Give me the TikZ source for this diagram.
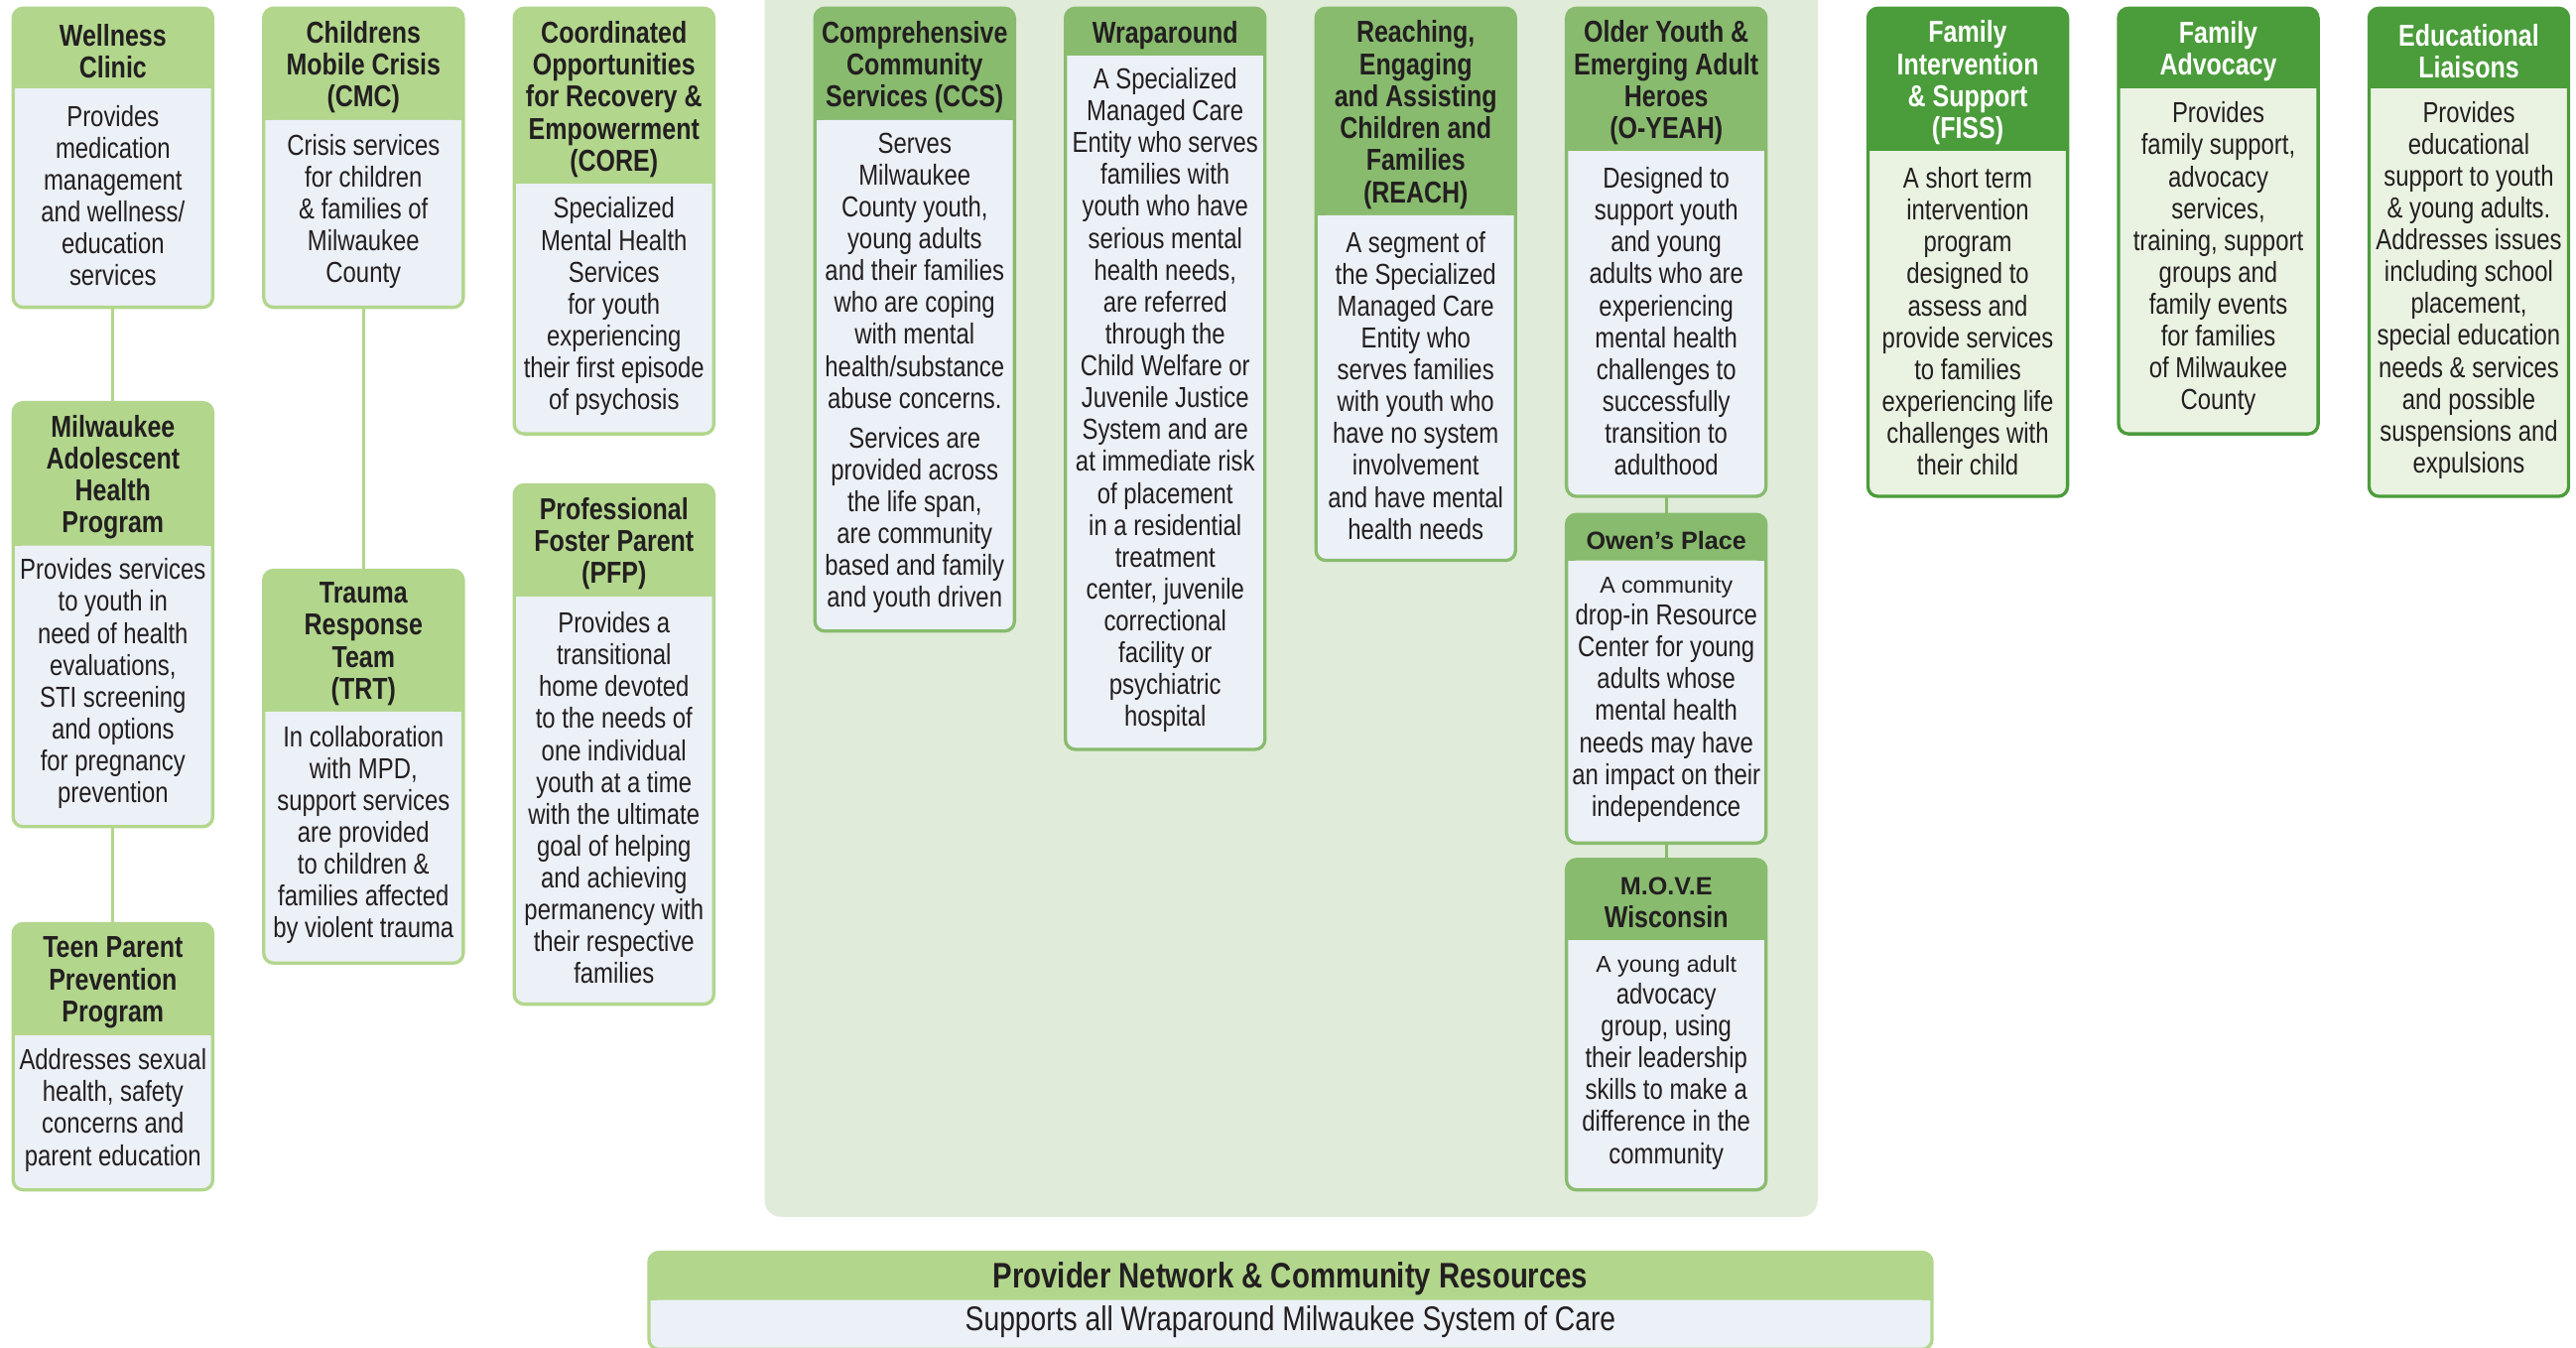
\documentclass[tikz,border=0pt]{standalone}
\usepackage{fontspec}
\setmainfont{Liberation Sans}
\newfontfamily\cond{Liberation Sans}[FakeStretch=0.82]
\newfontfamily\wide{Liberation Sans}
\definecolor{ltH}{HTML}{B2D68C}
\definecolor{ltB}{HTML}{ECF0F7}
\definecolor{ltT}{HTML}{231F20}
\definecolor{mdH}{HTML}{88BB6E}
\definecolor{mdB}{HTML}{ECF0F7}
\definecolor{mdT}{HTML}{231F20}
\definecolor{dkH}{HTML}{4B9C3B}
\definecolor{dkB}{HTML}{EAF3E2}
\definecolor{dkT}{HTML}{FFFFFF}
\definecolor{panelc}{HTML}{E0EBD9}
\definecolor{txt}{HTML}{231F20}
\tikzset{
  headtxt/.style={align=center, inner sep=0pt, font=\cond\bfseries\fontsize{9.2}{9.75}\selectfont},
  bodytxt/.style={align=center, inner sep=0pt, text=txt, font=\cond\fontsize{8.8}{9.7}\selectfont},
  conn/.style={line width=1pt},
}
% #1 name, #2 x, #3 width, #4 top, #5 head bottom, #6 bottom, #7 set, #8 head, #9 body
\newcommand\pbox[9]{%
  \fill[#7H,rounded corners=3pt] (#2,#4) rectangle ({#2+#3},#6);
  \fill[#7B,rounded corners=3pt] (#2,#5) rectangle ({#2+#3},#6);
  \fill[#7B] (#2,#5) rectangle ({#2+#3},{#5+8});
  \node[draw=#7H, line width=1pt, rounded corners=3pt, minimum width={#3*0.5pt}, minimum height={(#6-#4)*0.5pt}, anchor=north west, inner sep=0pt, outer sep=0pt] (#1) at (#2,#4) {};
  \node[headtxt, text=#7T] (#1-h) at ({#2+#3/2},{(#4+#5)/2+1.8}) {#8};
  \node[bodytxt] (#1-b) at ({#2+#3/2},{(#5+#6)/2-1.5}) {#9};
}
\begin{document}
\begin{tikzpicture}[x=0.5pt,y=-0.5pt]
\useasboundingbox (0,0) rectangle (1568,820);
\fill[white] (0,0) rectangle (1568,820);
% centre panel
\node[fill=panelc, rounded corners=5pt, minimum width=320.5pt, minimum height=380pt, anchor=north west, inner sep=0pt] (panel) at (465,-20) {};

% column 1
\pbox{wc}{8}{121.5}{5}{54}{187}{lt}{Wellness\\Clinic}{Provides\\medication\\management\\and wellness/\\education\\services}
\pbox{mahp}{8}{121.5}{245}{332}{503}{lt}{Milwaukee\\Adolescent\\Health\\Program}{Provides services\\to youth in\\need of health\\evaluations,\\STI screening\\and options\\for pregnancy\\prevention}
\pbox{tppp}{8}{121.5}{562}{630}{724}{lt}{Teen Parent\\Prevention\\Program}{Addresses sexual\\health, safety\\concerns and\\parent education}
% column 2
\pbox{cmc}{160.5}{121.5}{5}{73}{187}{lt}{Childrens\\Mobile Crisis\\(CMC)}{Crisis services\\for children\\\& families of\\Milwaukee\\County}
\pbox{trt}{160.5}{121.5}{347}{433}{586}{lt}{Trauma\\Response\\Team\\(TRT)}{In collaboration\\with MPD,\\support services\\are provided\\to children \&\\families affected\\by violent trauma}
% column 3
\pbox{core}{313}{121.5}{5}{112}{264}{lt}{Coordinated\\Opportunities\\for Recovery \&\\Empowerment\\(CORE)}{Specialized\\Mental Health\\Services\\for youth\\experiencing\\their first episode\\of psychosis}
\pbox{pfp}{313}{121.5}{295}{363}{611}{lt}{Professional\\Foster Parent\\(PFP)}{Provides a\\transitional\\home devoted\\to the needs of\\one individual\\youth at a time\\with the ultimate\\goal of helping\\and achieving\\permanency with\\their respective\\families}
% centre group
\pbox{ccs}{496}{121.5}{5}{73}{384}{md}{Comprehensive\\Community\\Services (CCS)}{Serves\\Milwaukee\\County youth,\\young adults\\and their families\\who are coping\\with mental\\health/substance\\abuse concerns.\\[2.4pt]Services are\\provided across\\the life span,\\are community\\based and family\\and youth driven}
\pbox{wrap}{648.5}{121.5}{5}{34}{456}{md}{Wraparound}{A Specialized\\Managed Care\\Entity who serves\\families with\\youth who have\\serious mental\\health needs,\\are referred\\through the\\Child Welfare or\\Juvenile Justice\\System and are\\at immediate risk\\of placement\\in a residential\\treatment\\center, juvenile\\correctional\\facility or\\psychiatric\\hospital}
\pbox{reach}{801}{121.5}{5}{131}{341}{md}{Reaching,\\Engaging\\and Assisting\\Children and\\Families\\(REACH)}{A segment of\\the Specialized\\Managed Care\\Entity who\\serves families\\with youth who\\have no system\\involvement\\and have mental\\health needs}
\pbox{oyeah}{953.5}{121.5}{5}{92}{302}{md}{Older Youth \&\\Emerging Adult\\Heroes\\(O-YEAH)}{Designed to\\support youth\\and young\\adults who are\\experiencing\\mental health\\challenges to\\successfully\\transition to\\adulthood}
\pbox{owen}{953.5}{121.5}{313}{341}{513}{md}{\wide\fontsize{7.6}{9.75}\selectfont Owen’s Place}{\wide\fontsize{7}{9.7}\selectfont A community\\drop-in Resource\\Center for young\\adults whose\\mental health\\needs may have\\an impact on their\\independence}
\pbox{move}{953.5}{121.5}{523}{572}{724}{md}{\wide\fontsize{7.6}{9.75}\selectfont M.O.V.E\\Wisconsin}{\wide\fontsize{7}{9.7}\selectfont A young adult\\advocacy\\group, using\\their leadership\\skills to make a\\difference in the\\community}
% right group
\pbox{fiss}{1137}{121.5}{5}{92}{302}{dk}{Family\\Intervention\\\& Support\\(FISS)}{A short term\\intervention\\program\\designed to\\assess and\\provide services\\to families\\experiencing life\\challenges with\\their child}
\pbox{fa}{1289.5}{121.5}{5}{54}{264}{dk}{Family\\Advocacy}{Provides\\family support,\\advocacy\\services,\\training, support\\groups and\\family events\\for families\\of Milwaukee\\County}
\pbox{el}{1442}{121.5}{5}{54}{302}{dk}{Educational\\Liaisons}{Provides\\educational\\support to youth\\\& young adults.\\Addresses issues\\including school\\placement,\\special education\\needs \& services\\and possible\\suspensions and\\expulsions}
% bottom
\pbox{pn}{395}{781}{762}{791}{821}{lt}{\fontsize{10.8}{12}\selectfont Provider Network \& Community Resources}{\fontsize{10.4}{12}\selectfont Supports all Wraparound Milwaukee System of Care}

% connectors
\draw[conn, ltH] (wc.south) -- (mahp.north);
\draw[conn, ltH] (mahp.south) -- (tppp.north);
\draw[conn, ltH] (cmc.south) -- (trt.north);
\draw[conn, mdH] (oyeah.south) -- (owen.north);
\draw[conn, mdH] (owen.south) -- (move.north);
\end{tikzpicture}
\end{document}
